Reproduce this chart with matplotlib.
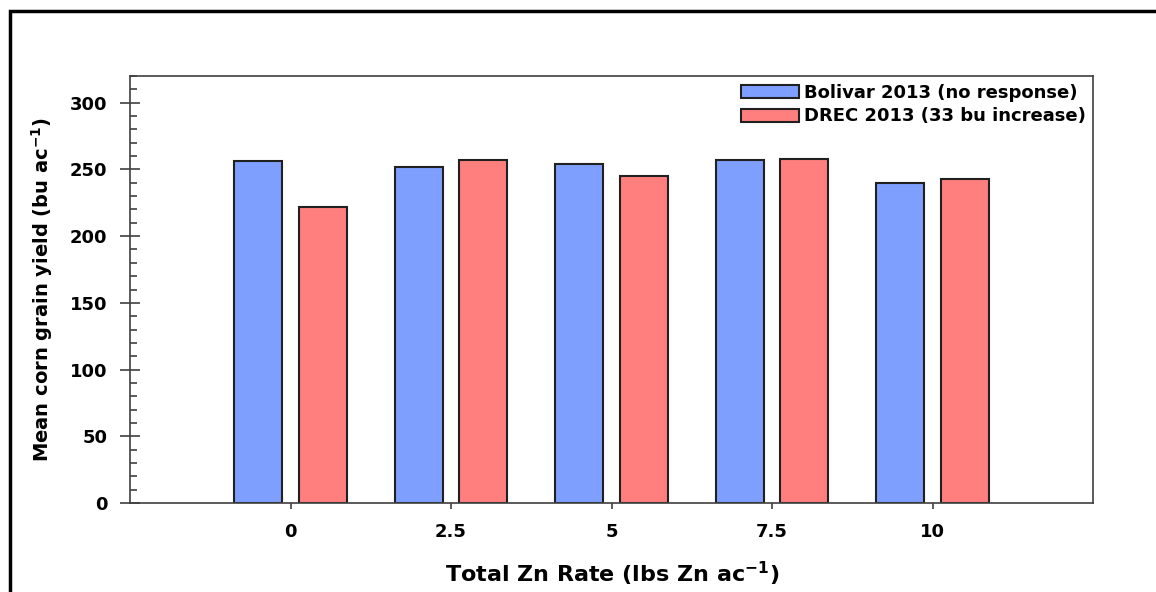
import numpy as np
import matplotlib
matplotlib.use('Agg')
import matplotlib.pyplot as plt
from matplotlib.patches import Rectangle
from matplotlib.ticker import MultipleLocator

# Data
zn_rates = ['0', '2.5', '5', '7.5', '10']
bolivar = [256, 252, 254, 257, 240]
drec = [222, 257, 245, 258, 243]

plt.rcParams['font.family'] = ['DejaVu Sans']
plt.rcParams['font.weight'] = 'bold'
plt.rcParams['mathtext.default'] = 'bf'

W, H = 1156, 592
fig = plt.figure(figsize=(W / 100, H / 100), dpi=100)
ax = fig.add_axes([130 / W, 1 - 503 / H, (1093 - 130) / W, (503 - 76) / H])

x = np.arange(1, len(zn_rates) + 1)
w = 0.3
ax.bar(x - 0.2, bolivar, w, color='#7F9FFF', edgecolor='#202020', linewidth=1.5,
       label='Bolivar 2013 (no response)')
ax.bar(x + 0.2, drec, w, color='#FF7F7F', edgecolor='#202020', linewidth=1.5,
       label='DREC 2013 (33 bu increase)')

ax.set_xlim(0, 6)
ax.set_ylim(0, 320)
ax.set_xticks(x)
ax.set_xticklabels(zn_rates)
ax.yaxis.set_major_locator(MultipleLocator(50))
ax.yaxis.set_minor_locator(MultipleLocator(10))
ax.tick_params(axis='y', which='major', direction='inout', length=14.4, width=1.2,
               labelsize=13, colors='#404040', labelcolor='black', pad=9)
ax.tick_params(axis='y', which='minor', direction='in', length=5, width=1.2, colors='#404040')
ax.tick_params(axis='x', which='major', direction='out', length=4.5, width=1.2,
               labelsize=13, colors='#404040', labelcolor='black', pad=10)
for s in ax.spines.values():
    s.set_color('#404040')
    s.set_linewidth(1.2)

fig.text(42 / W, 1 - 289 / H, 'Mean corn grain yield (bu ac$^{-1}$)', rotation=90,
         ha='center', va='center', fontsize=14, fontweight='bold')
fig.text(612 / W, 1 - 574 / H, 'Total Zn Rate (lbs Zn ac$^{-1}$)',
         ha='center', va='center', fontsize=16, fontweight='bold')

leg = ax.legend(loc='upper left', bbox_to_anchor=((741 - 130) / 963, (503 - 84) / 427),
                frameon=False, handlelength=3.2, handleheight=0.75, handletextpad=0.3,
                labelspacing=0.3, borderpad=0, borderaxespad=0,
                prop={'weight': 'bold', 'size': 13})

# outer frame of the original figure
fig.patches.append(Rectangle((10 / W, -0.1), 1.2, 1 - 11 / H + 0.1,
                             transform=fig.transFigure, fill=False,
                             edgecolor='black', linewidth=2.5))

fig.savefig('out.png', dpi=100, facecolor='white')
